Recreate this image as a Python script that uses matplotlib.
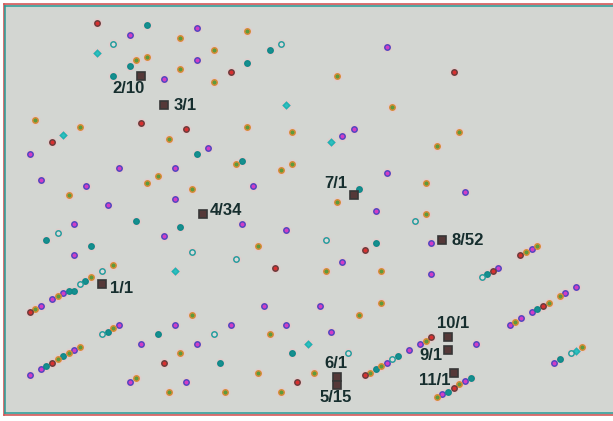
import matplotlib
matplotlib.use("Agg")
import matplotlib.pyplot as plt

W, H = 613, 421

# ---- data (pixel-like coordinates, y downward) ----
purple_x = [130, 197, 197, 164, 386.7, 29.7, 119, 41, 85.7, 107.7, 208.3, 175, 252.7, 175,
            353.7, 342.3, 386.7, 464.7, 375.7, 74.3, 74.3, 63, 52, 41, 119, 141.3, 74.3, 41,
            29.7, 130, 164, 241.7, 286.3, 264, 175, 230.7, 286.3, 197, 186, 431.3, 342.3,
            431.3, 320, 331, 386.7, 409, 420.3, 442.3, 465, 476, 532, 498.3, 576.3, 565.3,
            532, 520.7, 509.7, 554]
purple_y = [34.7, 28, 60.3, 79, 46.7, 154.3, 167.7, 180, 186.3, 205.3, 147.7, 167.7, 186.3, 198.7,
            129, 135.7, 173.3, 192, 211, 224, 255, 292.7, 299.3, 306, 325, 344, 350.3, 369.3,
            374.7, 381.7, 236.3, 224, 229.7, 306.3, 325, 325, 325, 344, 381.7, 243, 262,
            274, 306.3, 331.7, 362.7, 350.3, 344, 393.7, 381, 344, 249.3, 268.3, 287.3, 292.7,
            311.7, 318.3, 325, 362.7]

teal_x = [146.7, 130, 113.3, 269.7, 247.3, 197, 241.7, 359, 46.3, 135.7, 91, 85.3, 74.3, 68.7,
          107.7, 63, 46.3, 180.3, 158, 292, 219.7, 375.7, 375.7, 398, 448, 470.7, 487.3, 537.3,
          559.7]
teal_y = [24.7, 65.7, 75.7, 50.3, 63.3, 154.3, 161, 188.7, 239.7, 220.7, 246.3, 280.7, 290.7, 290.7,
          331.7, 356, 366, 227.3, 334, 352.7, 362.7, 243, 369.3, 356, 391.7, 377.7, 274, 309.3,
          359.3]

cyan_x = [96.7, 63.3, 286.3, 331, 175, 308, 576.3]
cyan_y = [53.3, 135.3, 104.7, 142.3, 270.7, 344, 350.7]

olive_x = [135.7, 146.7, 35.3, 80, 146.7, 68.7, 180.3, 247.3, 214, 180.3, 214, 247.3, 292, 169.3,
           236.3, 292, 280.7, 158, 191.7, 336.7, 392.3, 459, 437, 425.7, 336.7, 113.3, 91, 57.7,
           35.3, 113.3, 80, 68.7, 57.7, 135.7, 258.3, 191.7, 269.7, 180.3, 258.3, 169.3, 225,
           280.7, 425.7, 325.7, 381.3, 381.3, 359, 314.3, 370, 381.3, 425.7, 437, 459.3, 526.3,
           537.3, 559.7, 548.7, 515.3, 582]
olive_y = [60.3, 57, 120, 126.7, 183, 195.3, 38, 31.3, 50.3, 69.3, 82.3, 126.7, 132.3, 138.7,
           164.3, 164.3, 170, 176.3, 188.7, 75.7, 106.7, 132.3, 145.7, 183.3, 202, 265, 277.3, 296,
           309.3, 328.3, 346.7, 352.7, 359.3, 378.3, 246.3, 315, 334, 352.7, 372.7, 391.7, 391.7,
           391.7, 214.3, 270.7, 270.7, 302.7, 315, 372.7, 372.7, 366, 340.7, 397, 384.3, 251.7,
           246, 296, 302.7, 321.7, 347]

red_x = [96.7, 52, 141.3, 230.7, 186, 453.7, 29.7, 52, 275.3, 164, 297.3, 364.7, 364.7, 431.3,
         454, 520.3, 493, 543]
red_y = [22.7, 142.3, 123.3, 72.3, 129, 72.3, 311.7, 362.7, 268.3, 362.7, 381.7, 249.7, 374.7, 337.3,
         388.3, 255, 270.7, 306]

hollow_x = [113.3, 280.7, 57.7, 102.3, 80, 102.3, 191.7, 236.3, 214, 414.7, 325.7, 347.7, 392.3,
            481.7, 570.7]
hollow_y = [44.3, 44.3, 233, 270.7, 284, 334, 252, 258.7, 334, 220.7, 239.7, 352.7, 359.3,
            277.3, 352.7]

sq_x = [141.3, 164, 203, 102.3, 353.7, 442.3, 336.7, 336.7, 448, 448, 453.7]
sq_y = [75.7, 104.7, 214, 284, 195.3, 239.7, 377, 384.7, 337, 350.3, 372.7]
sq_labels = ['2/10', '3/1', '4/34', '1/1', '7/1', '8/52', '6/1', '5/15', '10/1', '9/1', '11/1']
# label offsets in pixels (dx right, dy down)
lab_dx = [-13, 20.7, 23, 19.4, -17.7, 25.7, -0.7, -0.7, 4.7, -17, -19.4]
lab_dy = [13.3, 1.3, -3, 4.3, -12, 1, -13.7, 12.6, -13.7, 5.7, 8]

# ---- figure ----
fig = plt.figure(figsize=(W / 100, H / 100), dpi=100)
fig.patch.set_facecolor('white')

x0, ytop, ybot = 3.5, 4.5, 415.0
ax = fig.add_axes([x0 / W, (H - ybot) / H, (W - x0) / W, (ybot - ytop) / H])
ax.set_facecolor('#d3d6d2')
ax.set_xlim(x0, W)
ax.set_ylim(ybot, ytop)
ax.set_xticks([])
ax.set_yticks([])
for s in ['left', 'top', 'bottom']:
    ax.spines[s].set_color('#d45a5a')
    ax.spines[s].set_linewidth(1.2)
ax.spines['right'].set_visible(False)

x1, yt2, yb2 = 5.2, 6.2, 413.2
ax2 = fig.add_axes([x1 / W, (H - yb2) / H, (W - x1) / W, (yb2 - yt2) / H])
ax2.patch.set_visible(False)
ax2.set_xticks([])
ax2.set_yticks([])
for s in ['left', 'top', 'bottom']:
    ax2.spines[s].set_color('#2a9a96')
    ax2.spines[s].set_linewidth(1.1)
ax2.spines['right'].set_visible(False)

series = [
    (purple_x, purple_y, '#d23cc6', '#5046c0', 'o'),
    (teal_x, teal_y, '#149090', '#128888', 'o'),
    (cyan_x, cyan_y, '#2cc0c0', '#22b0b0', 'D'),
    (olive_x, olive_y, '#5e9a3c', '#d88a34', 'o'),
    (red_x, red_y, '#d83030', '#6a3c3c', 'o'),
    (hollow_x, hollow_y, '#dadada', '#229c9c', 'o'),
]
for xs, ys, fc, ec, mk in series:
    ax.plot(xs, ys, linestyle='none', marker='o', markersize=7,
            markerfacecolor='#e8c8c8', markeredgecolor='none', alpha=0.6, zorder=2)
    ax.plot(xs, ys, linestyle='none', marker=mk, markersize=3.9 if mk == 'o' else 3.3,
            markerfacecolor=fc, markeredgecolor=ec, markeredgewidth=1.05, zorder=3)

ax.plot(sq_x, sq_y, linestyle='none', marker='s', markersize=5.8,
        markerfacecolor='#553838', markeredgecolor='#363636', markeredgewidth=1.2, zorder=4)
for x, y, t, dx, dy in zip(sq_x, sq_y, sq_labels, lab_dx, lab_dy):
    ax.annotate(t, (x, y), xytext=(dx, -dy), textcoords='offset pixels',
                ha='center', va='center', fontsize=12, fontweight='bold',
                family=['Liberation Sans', 'DejaVu Sans'], color='#162e2e', zorder=5)

fig.savefig('out.png', dpi=100)
